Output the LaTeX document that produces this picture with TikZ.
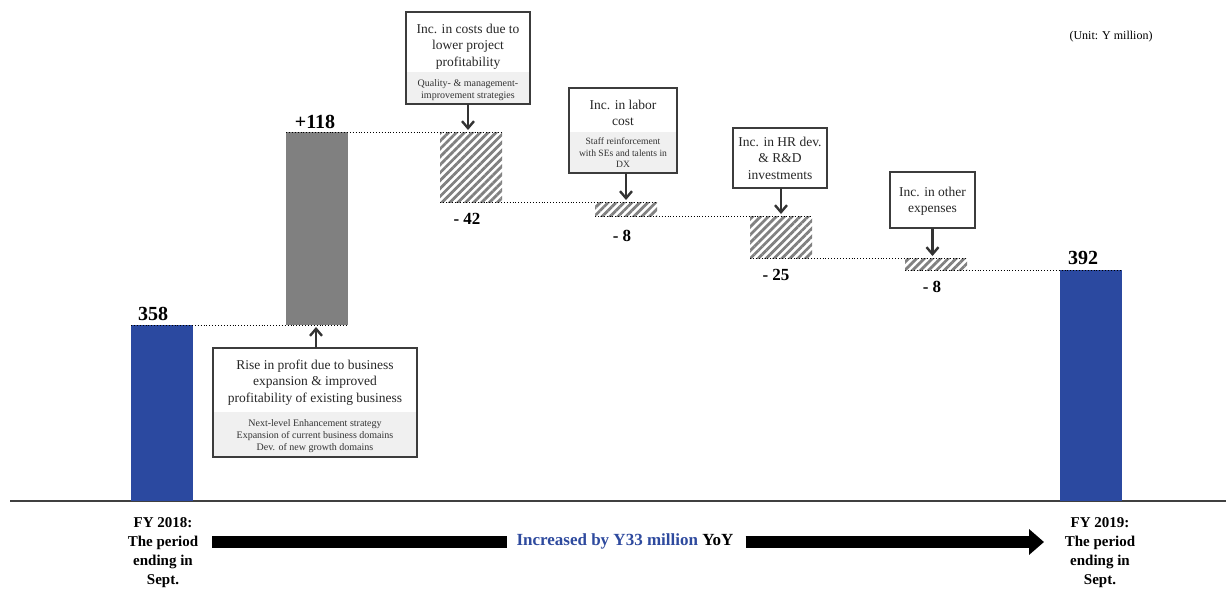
\documentclass[tikz,border=0pt]{standalone}
\usepackage{fontspec}
\setmainfont{Liberation Serif}
\usetikzlibrary{arrows.meta,patterns.meta}
\definecolor{barblue}{RGB}{43,73,160}
\definecolor{bargray}{RGB}{128,128,128}
\definecolor{boxgray}{RGB}{60,60,60}
\definecolor{bandgray}{RGB}{240,240,240}
\definecolor{arrowgray}{RGB}{51,51,51}
\definecolor{txtblue}{RGB}{46,74,158}
\begin{document}
\begin{tikzpicture}[x=1pt,y=-1pt,
  bar/.style={inner sep=0pt, outer sep=0pt, anchor=north west},
  bluebar/.style={bar, fill=barblue},
  graybar/.style={bar, fill=bargray},
  hatchbar/.style={bar, pattern={Lines[angle=45,distance=5.6pt,line width=2.8pt]}, pattern color=bargray},
  dots/.style={dotted, line width=0.9pt},
  box/.style={draw=boxgray, line width=2.5pt, inner sep=0pt, outer sep=0pt, anchor=north west},
  btext/.style={align=center, inner sep=0pt, font=\fontsize{13.5}{16.5}\selectfont, text=black!85},
  stext/.style={align=center, inner sep=0pt, font=\fontsize{10}{12}\selectfont, text=black!80},
  val/.style={inner sep=0pt, font=\bfseries\fontsize{20}{22}\selectfont},
  nval/.style={inner sep=0pt, font=\bfseries\fontsize{17}{20}\selectfont},
  pt/.style={-{Straight Barb[length=7pt,width=12pt,line width=2.4pt]}, line width=2.2pt, draw=arrowgray},
  fy/.style={align=center, inner sep=0pt, font=\bfseries\fontsize{15}{19}\selectfont}
]
\useasboundingbox (0,0) rectangle (1226,589);

% axis
\draw[line width=1.5pt, draw=black!75] (10,501) -- (1226,501);

% bars
\node[bluebar, minimum width=62pt, minimum height=176pt] (b1) at (131,325) {};
\node[graybar, minimum width=62pt, minimum height=193pt] (b2) at (286,132) {};
\node[hatchbar, minimum width=62pt, minimum height=70pt] (h1) at (440,132) {};
\node[hatchbar, minimum width=62pt, minimum height=14pt] (h2) at (595,202) {};
\node[hatchbar, minimum width=62pt, minimum height=42pt] (h3) at (750,216) {};
\node[hatchbar, minimum width=62pt, minimum height=12pt] (h4) at (905,258) {};
\node[bluebar, minimum width=62pt, minimum height=231pt] (b7) at (1060,270) {};

% dotted level lines
\draw[dots] (b1.north west) -- (b2.south east);
\draw[dots] (b2.north west) -- (h1.north east);
\draw[dots] (h1.south west) -- (h2.north east);
\draw[dots] (h2.south west) -- (h3.north east);
\draw[dots] (h3.south west) -- (h4.north east);
\draw[dots] (h4.south west) -- (b7.north east);

% values
\node[val] (v1) at (153,314) {358};
\node[val] (v2) at (315,122) {+118};
\node[nval] (v3) at (467,219) {- 42};
\node[nval] (v4) at (622,236) {- 8};
\node[nval] (v5) at (776,275) {- 25};
\node[nval] (v6) at (932,287) {- 8};
\node[val] (v7) at (1083,258) {392};

% unit
\node[inner sep=0pt, font=\fontsize{12}{14}\selectfont] (unit) at (1111,37) {(Unit: Y million)};

% box A
\fill[bandgray] (406,72) rectangle (530,104);
\node[box, minimum width=124pt, minimum height=92pt] (bA) at (406,12) {};
\node[btext] (tA) at (468,46.5) {Inc. in costs due to\\lower project\\profitability};
\node[stext] (sA) at (468,90.5) {Quality- \& management-\\improvement strategies};
\draw[pt] (bA.south) -- ([yshift=2pt]bA.south |- h1.north);

% box B
\fill[bandgray] (569,132) rectangle (677,173);
\node[box, minimum width=108pt, minimum height=85pt] (bB) at (569,88) {};
\node[btext] (tB) at (623,113) {Inc. in labor\\cost};
\node[stext, font=\fontsize{9.6}{11.6}\selectfont] (sB) at (623,153) {Staff reinforcement\\with SEs and talents in\\DX};
\draw[pt] ([xshift=3pt]bB.south) -- ([xshift=3pt,yshift=2pt]bB.south |- h2.north);

% box C
\node[box, minimum width=94pt, minimum height=60pt] (bC) at (733,128) {};
\node[btext] (tC) at (780,158) {Inc. in HR dev.\\\& R\&D\\investments};
\draw[pt] ([xshift=1pt]bC.south) -- ([xshift=1pt,yshift=2pt]bC.south |- h3.north);

% box D
\node[box, minimum width=85pt, minimum height=56pt] (bD) at (890,172) {};
\node[btext] (tD) at (932.5,201.5) {Inc. in other\\expenses};
\draw[pt] (bD.south) -- ([yshift=2pt]bD.south |- h4.north);

% box E
\fill[bandgray] (213,412) rectangle (417,457);
\node[box, minimum width=204pt, minimum height=109pt] (bE) at (213,348) {};
\node[btext] (tE) at (315,382.5) {Rise in profit due to business\\expansion \& improved\\profitability of existing business};
\node[stext] (sE) at (315,436) {Next-level Enhancement strategy\\Expansion of current business domains\\Dev. of new growth domains};
\draw[pt] ([xshift=1pt]bE.north) -- ([xshift=1pt,yshift=-2pt]bE.north |- b2.south);

% bottom labels
\node[fy] (fy1) at (163,553) {FY 2018:\\The period\\ending in\\Sept.};
\node[fy] (fy2) at (1100,553) {FY 2019:\\The period\\ending in\\Sept.};
\node[inner sep=0pt, font=\bfseries\fontsize{17}{20}\selectfont] (inc) at (625,541) {\textcolor{txtblue}{Increased by Y33 million} YoY};
\coordinate (aS) at (212,542);
\coordinate (aE) at (1044,542);
\draw[line width=12pt] (aS) -- ([xshift=-9pt]aS -| inc.west);
\draw[line width=12pt, -{Triangle[length=15pt,width=25pt]}] ([xshift=12pt]aE -| inc.east) -- (aE);
\end{tikzpicture}
\end{document}
